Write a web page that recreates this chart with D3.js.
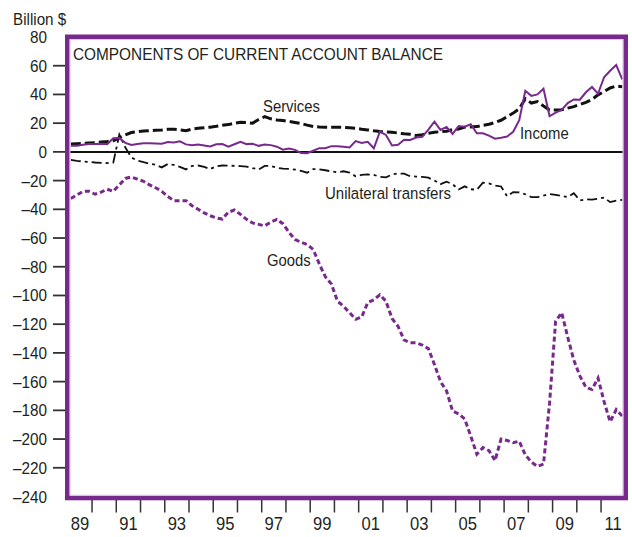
<!DOCTYPE html>
<html>
<head>
<meta charset="utf-8">
<script src="https://cdn.jsdelivr.net/npm/d3@7"></script>
<style>
  html, body { margin: 0; padding: 0; background: #fff; }
  svg { display: block; }
  text { font-family: "Liberation Sans", Arial, Helvetica, sans-serif; fill: #231f20; }
</style>
</head>
<body>
<svg id="chart" width="632" height="537"></svg>
<script>
// ---- Data (billions of dollars, quarterly, 1989Q1 - 2011Q4) ----
const startYear = 1989;
const quarters = d3.range(92).map(i => `${startYear + Math.floor(i / 4)}Q${i % 4 + 1}`);

const goods = [
  -32.5, -30, -27.5, -27.5, -29.5, -28, -26, -27.5, -23, -18.5,
  -17.5, -19, -20.5, -23, -25, -27.5, -31, -34, -34, -34,
  -37.5, -40, -42.5, -44.5, -46, -46.8, -42, -40.5, -43.5, -47,
  -49.5, -50.5, -51.5, -49, -47, -50, -56, -61, -63, -64.5,
  -68, -78, -87, -92, -104, -107.5, -112, -116.5, -115, -105,
  -103, -99.5, -104, -116, -121.5, -131, -133, -133, -134.5, -137,
  -148, -160, -166.5, -180.5, -182.5, -186, -198, -210.5, -206, -208,
  -215, -200, -201, -202.5, -201.5, -211, -216, -219, -217.5, -175,
  -118, -112, -129, -145, -156, -164, -165.5, -157.5, -174, -188,
  -179.5, -184
];

const services = [
  5.5, 5.7, 5.9, 6.2, 6.4, 6.8, 7.2, 7.8, 9.8, 11.8,
  13.5, 14.2, 14.5, 14.8, 15, 15.2, 15.7, 15.8, 15.3, 14.8,
  15.8, 16.4, 16.8, 17.2, 17.8, 18.5, 19, 20, 20.7, 20.4,
  20, 22.5, 24.5, 23, 22.2, 21.8, 21.2, 20.5, 19.8, 18.6,
  17.7, 17.4, 17.2, 17.2, 17.2, 17, 16.8, 16.4, 15.8, 15.3,
  14.7, 14.2, 13.9, 13.7, 13.1, 12.6, 12.2, 11.4, 12, 13,
  13.6, 14.1, 14.4, 15.5, 16, 17.2, 17.4, 17.6, 18.5, 19.2,
  20.5, 22, 24.5, 27, 30, 37, 34, 35, 32, 29.2,
  29.2, 29.3, 30.5, 31.5, 33, 34.5, 36.5, 39.7, 42, 44.5,
  45.9, 45.4
];

const income = [
  4.2, 4.2, 5, 5.4, 5.5, 5.6, 5.4, 9.5, 9.6, 6.3,
  4.8, 5.5, 6, 6, 5.9, 5.6, 6.8, 6.6, 7.4, 5.2,
  4.6, 5.2, 4.5, 3.8, 5.3, 5.4, 3.6, 5.3, 7, 5.4,
  5.6, 4.2, 5.1, 4.7, 3.6, 1.5, 2.4, 1.4, -0.8, -0.9,
  0.8, 2.6, 2.6, 4, 3.9, 3.6, 3.1, 7.5, 6.2, 7,
  2.5, 14, 11.8, 4.5, 5, 8.5, 8.3, 10, 10.5, 15.5,
  21, 15.3, 17.4, 12.5, 18, 17.5, 19.2, 13, 13, 11.3,
  9.2, 9.8, 10.7, 14, 22, 42.5, 39, 40, 44, 24.8,
  27.3, 29.2, 34, 36.5, 36.3, 41.5, 45.2, 40.5, 52, 56.5,
  60.5, 50.5
];

const unilateralTransfers = [
  -5.5, -6.2, -6.7, -7, -7.4, -7.6, -7.8, -7.5, 12, 3,
  -4, -6, -7.2, -8.2, -9, -10.8, -8.5, -9, -10.5, -12.2,
  -9.8, -9.5, -10.5, -12, -10, -9.5, -9.6, -9.7, -9.9, -10.2,
  -11.3, -12.3, -9.8, -9.8, -11, -11.7, -11.8, -12.3, -13.3, -14.5,
  -12, -12.2, -12.8, -13.6, -14.2, -13.5, -14.4, -17, -16, -15.7,
  -16, -17.4, -17.8, -15.8, -15, -15.2, -17, -17.2, -17.4, -18,
  -20, -22.5, -20.8, -22.5, -26.2, -24, -26, -26.4, -21.5, -22,
  -23.5, -24.1, -31, -28, -28.2, -29.5, -31.5, -31.5, -30.5, -29.3,
  -30, -30.7, -31.5, -28.8, -33.8, -33, -33.3, -32.6, -31.8, -35,
  -34, -33.4
];

const yTicks = [80, 60, 40, 20, 0, -20, -40, -60, -80, -100, -120, -140, -160, -180, -200, -220, -240];
const xTickYears = d3.range(1990, 2012);
const xLabels = ["89", "91", "93", "95", "97", "99", "01", "03", "05", "07", "09", "11"];

// ---- Layout ----
const svg = d3.select("#chart");
const PURPLE = "#782a8c";
const plot = { left: 67.8, right: 625.3, top: 37, bottom: 496.5 };

const x = d3.scaleLinear().domain([1989, 2012]).range([plot.left, plot.right]);
const y = d3.scaleLinear().domain([-240, 80]).range([plot.bottom, plot.top]);

const qTime = q => {
  const yr = +q.slice(0, 4), qq = +q.slice(5);
  return yr + (qq - 0.5) / 4;
};

function label(g, px, py, s, size, anchor, sx) {
  return g.append("text")
    .attr("transform", `translate(${px},${py}) scale(${sx},1)`)
    .attr("text-anchor", anchor)
    .style("font-size", size + "px")
    .text(s);
}

// Unit label
label(svg, 13, 24.5, "Billion $", 16, "start", 0.95);

// Y axis ticks & labels
const fmt = d => d < 0 ? "\u2013" + Math.abs(d) : String(d);
yTicks.forEach(t => {
  if (t !== 80 && t !== -240) {
    svg.append("line")
      .attr("x1", 53).attr("x2", 66)
      .attr("y1", y(t)).attr("y2", y(t))
      .attr("stroke", "#333").attr("stroke-width", 1.8);
  }
  label(svg, 47, y(t) + 6, fmt(t), 17, "end", 0.9);
});

// X axis ticks
xTickYears.forEach(yr => {
  svg.append("line")
    .attr("x1", x(yr)).attr("x2", x(yr))
    .attr("y1", 500).attr("y2", 512.5)
    .attr("stroke", "#333").attr("stroke-width", 1.5);
});
xLabels.forEach(lb => {
  const yr = +lb < 50 ? 2000 + +lb : 1900 + +lb;
  label(svg, x(yr + 0.5), 530, lb, 17.5, "middle", 0.95);
});

// Clip for lines
svg.append("clipPath").attr("id", "clip")
  .append("rect")
  .attr("x", plot.left + 2).attr("y", plot.top + 2)
  .attr("width", plot.right - plot.left - 4).attr("height", plot.bottom - plot.top - 4);

const g = svg.append("g").attr("clip-path", "url(#clip)");

// Zero line
g.append("line")
  .attr("x1", plot.left).attr("x2", plot.right)
  .attr("y1", y(0)).attr("y2", y(0))
  .attr("stroke", "#111").attr("stroke-width", 2);

const line = d3.line()
  .x((d, i) => x(qTime(quarters[i])))
  .y(d => y(d));

// Goods
g.append("path").datum(goods)
  .attr("d", line).attr("fill", "none")
  .attr("stroke", PURPLE).attr("stroke-width", 3)
  .attr("stroke-dasharray", "5,3");

// Unilateral transfers
g.append("path").datum(unilateralTransfers)
  .attr("d", line).attr("fill", "none")
  .attr("stroke", "#111").attr("stroke-width", 1.8)
  .attr("stroke-dasharray", "10,4,3,4");

// Services
g.append("path").datum(services)
  .attr("d", line).attr("fill", "none")
  .attr("stroke", "#111").attr("stroke-width", 3)
  .attr("stroke-dasharray", "10,4");

// Income
g.append("path").datum(income)
  .attr("d", line).attr("fill", "none")
  .attr("stroke", PURPLE).attr("stroke-width", 2)
  .attr("stroke-linejoin", "miter");

// Series labels
label(svg, 263, 112, "Services", 16.5, "start", 0.9);
label(svg, 520, 139, "Income", 16.5, "start", 0.9);
label(svg, 325, 199, "Unilateral transfers", 16.5, "start", 0.91);
label(svg, 267, 266, "Goods", 16.5, "start", 0.9);

// Title
svg.append("text")
  .attr("x", 73).attr("y", 60)
  .style("font-size", "17px")
  .attr("textLength", 370).attr("lengthAdjust", "spacingAndGlyphs")
  .text("COMPONENTS OF CURRENT ACCOUNT BALANCE");

// Frame
svg.append("rect")
  .attr("x", 67.3).attr("y", 36.8)
  .attr("width", 558.4).attr("height", 461.2)
  .attr("fill", "none").attr("stroke", PURPLE).attr("stroke-width", 4.6);
svg.append("rect")
  .attr("x", 70.1).attr("y", 39.6)
  .attr("width", 552.8).attr("height", 455.6)
  .attr("fill", "none").attr("stroke", "#d9c6e0").attr("stroke-width", 1);
</script>
</body>
</html>
